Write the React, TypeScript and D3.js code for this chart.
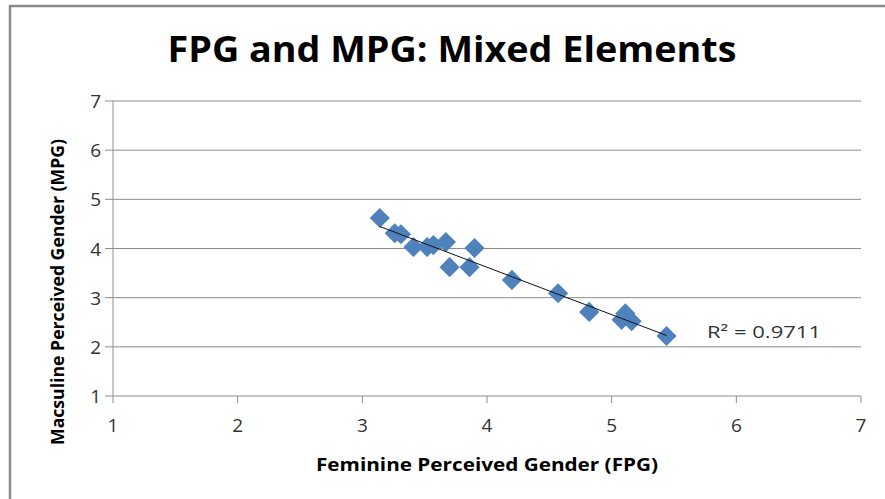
import React from "react";
import * as d3 from "d3";

const fpg = [3.14, 3.26, 3.31, 3.41, 3.52, 3.57, 3.67, 3.70, 3.86, 3.90, 4.20, 4.57, 4.82, 5.11, 5.08, 5.16, 5.44];
const mpg = [4.62, 4.31, 4.29, 4.03, 4.03, 4.07, 4.13, 3.62, 3.62, 4.01, 3.36, 3.09, 2.71, 2.68, 2.55, 2.52, 2.22];
const xTicks = [1, 2, 3, 4, 5, 6, 7];
const yTicks = [1, 2, 3, 4, 5, 6, 7];
const title = "FPG and MPG: Mixed Elements";
const xTitle = "Feminine Perceived Gender (FPG)";
const yTitle = "Macsuline Perceived Gender (MPG)";
const r2Label = "R² = 0.9711";

export default function App() {
  const W = 885, H = 499;
  const x = d3.scaleLinear().domain([1, 7]).range([113, 861]);
  const y = d3.scaleLinear().domain([1, 7]).range([396, 101]);
  const n = fpg.length;
  const mx = d3.mean(fpg)!, my = d3.mean(mpg)!;
  let sxy = 0, sxx = 0;
  for (let i = 0; i < n; i++) { sxy += (fpg[i] - mx) * (mpg[i] - my); sxx += (fpg[i] - mx) ** 2; }
  const b = sxy / sxx, a = my - b * mx;
  const x0 = d3.min(fpg)!, x1 = d3.max(fpg)!;
  const line = d3.line<number>().x(d => x(d)).y(d => y(a + b * d));
  const diamond = d3.symbol().type(d3.symbolDiamond2).size(260)();
  const font = "'Open Sans', 'Liberation Sans', sans-serif";
  const grid = "#8c8c8c";
  return (
    <svg width={W} height={H} style={{ position: "absolute", left: 0, top: 0, background: "#fff" }} fontFamily={font}>
      <rect x={0} y={0} width={W} height={H} fill="#fff" />
      <line x1={10} y1={6} x2={W} y2={6} stroke="#8a8a8a" strokeWidth={2.5} />
      <line x1={10} y1={5} x2={10} y2={H} stroke="#8a8a8a" strokeWidth={2.5} />
      <text x={452} y={62} textAnchor="middle" fontSize={35} fontWeight="bold" fill="#000"
        textLength={569} lengthAdjust="spacingAndGlyphs">{title}</text>
      {yTicks.map(t => (
        <g key={"y" + t}>
          <line x1={105} x2={861} y1={y(t)} y2={y(t)} stroke={grid} strokeWidth={1} />
          <text x={101} y={y(t) + 7} textAnchor="end" fontSize={19} fill="#333">{t}</text>
        </g>
      ))}
      <line x1={113} x2={113} y1={101} y2={396} stroke={grid} strokeWidth={1} />
      {xTicks.map(t => (
        <g key={"x" + t}>
          <line x1={x(t)} x2={x(t)} y1={396} y2={403} stroke={grid} strokeWidth={1} />
          <text x={x(t)} y={432} textAnchor="middle" fontSize={19} fill="#333">{t}</text>
        </g>
      ))}
      {fpg.map((v, i) => (
        <path key={"p" + i} d={diamond!} transform={`translate(${x(v)},${y(mpg[i])})`} fill="#4f81bd" />
      ))}
      <path d={line([x0, x1])!} stroke="#111" strokeWidth={1} fill="none" />
      <text x={707} y={338} fontSize={17} fill="#333" textLength={114} lengthAdjust="spacingAndGlyphs">{r2Label}</text>
      <text x={487} y={471} textAnchor="middle" fontSize={18} fontWeight="bold" fill="#000"
        textLength={342} lengthAdjust="spacingAndGlyphs">{xTitle}</text>
      <text transform={`translate(64,${292}) rotate(-90)`} textAnchor="middle" fontSize={18} fontWeight="bold" fill="#000"
        textLength={306} lengthAdjust="spacingAndGlyphs">{yTitle}</text>
    </svg>
  );
}
